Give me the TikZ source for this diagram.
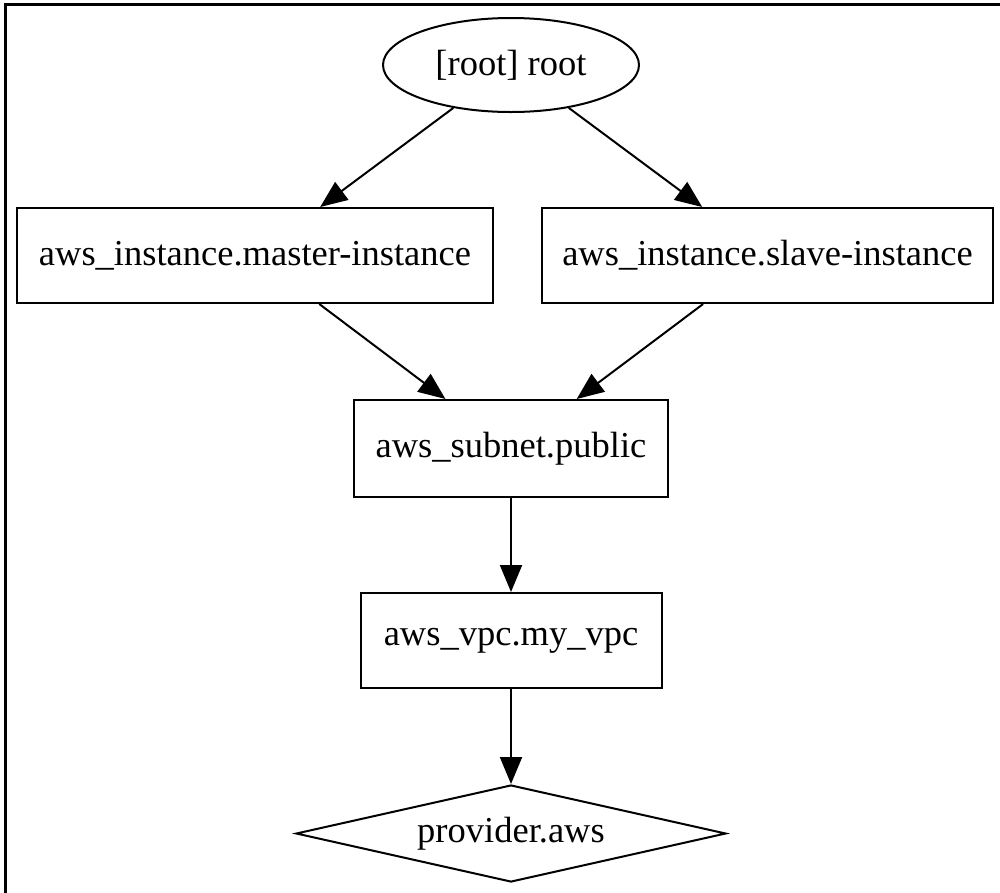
\documentclass[tikz,border=0pt]{standalone}
\usepackage{fontspec}
\setmainfont{Liberation Serif}
\usetikzlibrary{shapes.geometric,arrows.meta}

\begin{document}
\begin{tikzpicture}[x=1pt,y=-1pt,
  every node/.style={font=\fontsize{36.5}{43}\selectfont, inner sep=0pt, line width=2pt, draw=black},
  res/.style={rectangle, minimum height=95pt},
  rootnode/.style={ellipse, minimum width=256pt, minimum height=94pt},
  provnode/.style={diamond, aspect=4.43, minimum width=430pt, minimum height=97pt},
  dep/.style={draw=black, line width=2pt, -{Triangle[length=27pt,width=22pt]}},
  frame/.style={draw=black, line width=3pt}
]
\useasboundingbox (0,0) rectangle (1000,892);
\fill[white] (0,0) rectangle (1000,892);
% outer frame (top and left edges)
\draw[frame] (5,893) -- (5,4.5) -- (1001,4.5);

% resource graph
\node[rootnode] (root) at (511,65) {[root] root};
\node[res, minimum width=476pt] (master) at (255,255.5) {aws\_instance.master-instance};
\node[res, minimum width=451pt] (slave) at (767.5,255.5) {aws\_instance.slave-instance};
\node[res, minimum width=314pt, minimum height=97pt] (subnet) at (511,448.5) {aws\_subnet.public};
\node[res, minimum width=301pt] (vpc) at (511,640.5) {aws\_vpc.my\_vpc};
\node[provnode] (prov) at (511,833.5) {provider.aws};

% dependencies
\draw[dep] (root) -- (master);
\draw[dep] (root) -- (slave);
\draw[dep] (master) -- (subnet);
\draw[dep] (slave) -- (subnet);
\draw[dep] (subnet) -- (vpc);
\draw[dep] (vpc) -- (prov);
\end{tikzpicture}
\end{document}
